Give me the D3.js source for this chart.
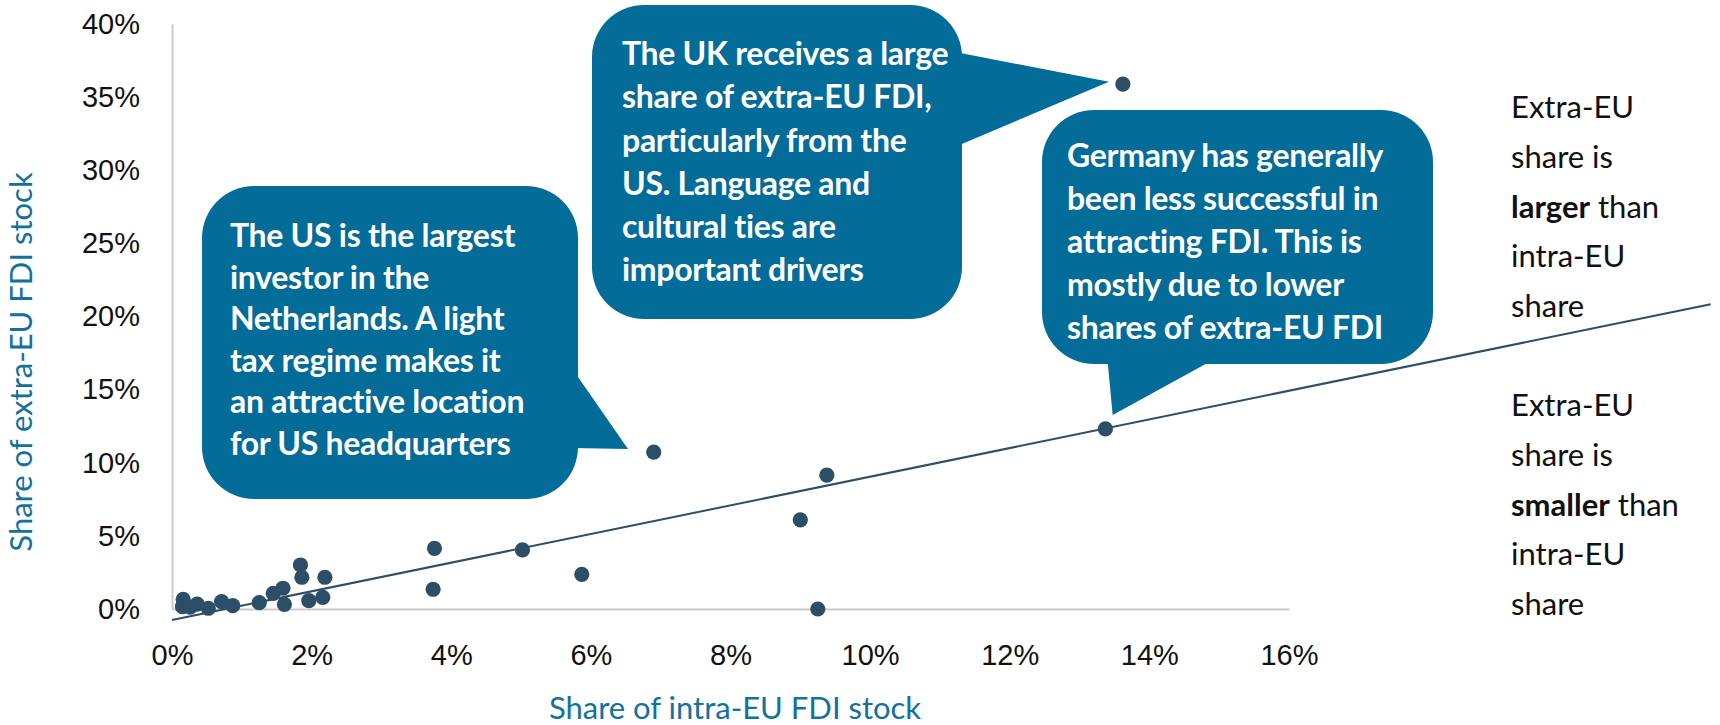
<!doctype html>
<html>
<head>
<meta charset="utf-8">
<title>Intra-EU vs extra-EU FDI stock</title>
<script src="https://cdn.jsdelivr.net/npm/d3@7"></script>
<style>
  body { margin: 0; background: #fff; }
  svg { display: block; font-family: Lato, "Open Sans", sans-serif; }
  .tick text { fill: #111; font-size: 29px; }
  .callout text { fill: #fff; font-weight: bold; font-size: 32px; letter-spacing: -0.3px; }
  .side text { fill: #111; font-size: 31px; }
</style>
</head>
<body>
<script>
// share of intra-EU FDI stock (%) and share of extra-EU FDI stock (%) per country
var intraShare = [0.16, 0.15, 0.26, 0.36, 0.52, 0.71, 0.87, 1.25, 1.45, 1.59, 1.61, 1.84, 1.86, 1.96, 2.16, 2.19,
                  3.76, 3.74, 5.02, 5.87, 6.9, 9.0, 9.38, 9.25, 13.37, 13.62];
var extraShare = [0.66, 0.16, 0.12, 0.34, 0.05, 0.50, 0.23, 0.43, 1.07, 1.42, 0.32, 3.01, 2.17, 0.57, 0.80, 2.17,
                  4.15, 1.35, 4.04, 2.37, 10.72, 6.1, 9.15, 0.0, 12.31, 35.89];

// separating line (two end points, in %)
var lineIntra = [0, 22.04];
var lineExtra = [-0.75, 20.84];

var xTicks = [0, 2, 4, 6, 8, 10, 12, 14, 16];
var yTicks = [0, 5, 10, 15, 20, 25, 30, 35, 40];

var xTitle = "Share of intra-EU FDI stock";
var yTitle = "Share of extra-EU FDI stock";

var dotColor = "#2c4f67";
var boxColor = "#046c98";
var titleColor = "#13719d";

var W = 1720, H = 725;
var svg = d3.select("body").append("svg").attr("width", W).attr("height", H);

var x = d3.scaleLinear().domain([0, 16]).range([172, 1289]);
var y = d3.scaleLinear().domain([0, 40]).range([609, 24]);

// axes
var xAxis = svg.append("g").attr("transform", "translate(0," + y(0) + ")")
  .call(d3.axisBottom(x).tickValues(xTicks).tickSize(0).tickPadding(35).tickFormat(function(d){ return d + "%"; }));
var yAxis = svg.append("g").attr("transform", "translate(" + x(0) + ",0)")
  .call(d3.axisLeft(y).tickValues(yTicks).tickSize(0).tickPadding(32).tickFormat(function(d){ return d + "%"; }));
[xAxis, yAxis].forEach(function(a){
  a.select(".domain").attr("stroke", "#cccccc").attr("stroke-width", 2);
  a.selectAll("text").attr("font-family", null).attr("font-size", null);
});

// axis titles
svg.append("text").attr("x", 735).attr("y", 711).attr("text-anchor", "middle")
  .attr("dominant-baseline", "middle").attr("fill", titleColor).attr("font-size", 31).text(xTitle);
svg.append("text").attr("transform", "translate(24,362) rotate(-90)").attr("text-anchor", "middle")
  .attr("dominant-baseline", "middle").attr("fill", titleColor).attr("font-size", 31).text(yTitle);

// separating line
svg.append("line")
  .attr("x1", x(lineIntra[0])).attr("y1", y(lineExtra[0]))
  .attr("x2", x(lineIntra[1])).attr("y2", y(lineExtra[1]))
  .attr("stroke", dotColor).attr("stroke-width", 2);

// points
var pts = intraShare.map(function(v, i){ return [v, extraShare[i]]; });
svg.append("g").selectAll("circle").data(pts).enter().append("circle")
  .attr("cx", function(d){ return x(d[0]); })
  .attr("cy", function(d){ return y(d[1]); })
  .attr("r", 7.6)
  .attr("fill", dotColor);

// callouts
var callouts = [
  { box: [202, 186, 376, 313], tail: [[560, 351], [628, 449], [571, 448], [540, 440]], tx: 230, ty: 239, dy: 41.5,
    lines: ["The US is the largest", "investor in the", "Netherlands. A light", "tax regime makes it", "an attractive location", "for US headquarters"] },
  { box: [592, 5, 370, 314], tail: [[950, 51], [1109, 81.7], [950, 149]], tx: 622, ty: 57, dy: 43.2,
    lines: ["The UK receives a large", "share of extra-EU FDI,", "particularly from the", "US. Language and", "cultural ties are", "important drivers"] },
  { box: [1042, 110, 391, 254], tail: [[1107, 355], [1112.7, 415], [1222, 355]], tx: 1067, ty: 159, dy: 43,
    lines: ["Germany has generally", "been less successful in", "attracting FDI. This is", "mostly due to lower", "shares of extra-EU FDI"] }
];
callouts.forEach(function(c){
  var g = svg.append("g").attr("class", "callout");
  g.append("rect").attr("x", c.box[0]).attr("y", c.box[1]).attr("width", c.box[2]).attr("height", c.box[3])
    .attr("rx", 52).attr("fill", boxColor);
  g.append("polygon").attr("points", c.tail.map(function(p){ return p.join(","); }).join(" ")).attr("fill", boxColor);
  c.lines.forEach(function(t, i){
    g.append("text").attr("x", c.tx).attr("y", c.ty + i * c.dy).attr("dominant-baseline", "middle").text(t);
  });
});

// side notes
var sideNotes = [
  { y0: 110, lines: [["Extra-EU"], ["share is"], ["larger", " than"], ["intra-EU"], ["share"]] },
  { y0: 408, lines: [["Extra-EU"], ["share is"], ["smaller", " than"], ["intra-EU"], ["share"]] }
];
sideNotes.forEach(function(s){
  var g = svg.append("g").attr("class", "side");
  s.lines.forEach(function(parts, i){
    var t = g.append("text").attr("x", 1511).attr("y", s.y0 + i * 49.8).attr("dominant-baseline", "middle");
    parts.forEach(function(p, j){
      t.append("tspan").attr("font-weight", parts.length > 1 && j === 0 ? "bold" : null).text(p);
    });
  });
});
</script>
</body>
</html>
